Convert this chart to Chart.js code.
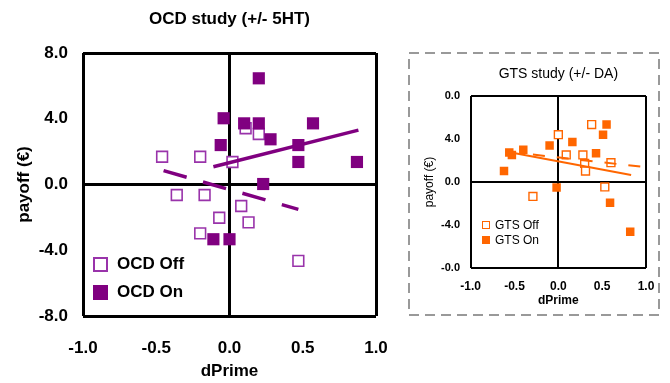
<!DOCTYPE html>
<html>
<head>
<meta charset="utf-8">
<script src="https://cdn.jsdelivr.net/npm/chart.js@4/dist/chart.umd.min.js"></script>
<style>
    body { margin: 0; background: #fff; font-family: 'Liberation Sans', Arial, sans-serif; }
    #page { position: relative; width: 670px; height: 383px; overflow: hidden; }
    .box { position: absolute; }
    .leg { position: absolute; display: flex; align-items: center; color: #000; white-space: nowrap; }
    .sq { box-sizing: border-box; display: inline-block; }
</style>
</head>
<body>
<div id="page">
    <div class="box" style="left:0;top:0;width:400px;height:383px"><canvas id="chart-ocd"></canvas></div>
    <div class="box" style="left:405px;top:45px;width:260px;height:280px"><canvas id="chart-gts"></canvas></div>

    <!-- legendes -->
    <div class="leg" style="left:93px;top:254px;height:20px;font:bold 17px 'Liberation Sans',Arial">
        <span class="sq" style="width:15px;height:15px;border:2px solid #9933aa;background:#fff;margin-right:9px"></span>OCD Off</div>
    <div class="leg" style="left:93px;top:282px;height:20px;font:bold 17px 'Liberation Sans',Arial">
        <span class="sq" style="width:15px;height:15px;background:#800080;margin-right:9px"></span>OCD On</div>
    <div class="leg" style="left:482px;top:218px;height:14px;font:12px 'Liberation Sans',Arial">
        <span class="sq" style="width:8px;height:8px;border:1.5px solid #ff6600;background:#fff;margin-right:5px"></span>GTS Off</div>
    <div class="leg" style="left:482px;top:233px;height:14px;font:12px 'Liberation Sans',Arial">
        <span class="sq" style="width:8px;height:8px;background:#ff6600;margin-right:5px"></span>GTS On</div>
</div>

<script>
// ── Données OCD (+/- 5HT) ─────────────────────────────────────────────
const ocdOffX = [-0.46, -0.20, 0.02, 0.11, 0.20, -0.36, -0.17, 0.08, -0.07, 0.13, -0.20, 0.47]
const ocdOffY = [1.69, 1.69, 1.37, 3.42, 3.07, -0.64, -0.64, -1.31, -2.02, -2.30, -2.97, -4.65]
const ocdOnX  = [0.20, -0.04, 0.10, 0.20, 0.57, 0.28, -0.06, 0.47, 0.47, 0.87, 0.23, -0.11, 0.00]
const ocdOnY  = [6.46, 4.03, 3.72, 3.72, 3.72, 2.75, 2.40, 2.40, 1.37, 1.37, 0.03, -3.33, -3.33]
const ocdOffFitX = [-0.45, 0.47]
const ocdOffFitY = [0.84, -1.51]
const ocdOnFitX  = [-0.11, 0.88]
const ocdOnFitY  = [1.08, 3.31]

// ── Données GTS (+/- DA) ──────────────────────────────────────────────
const gtsOffX = [0.38, 0.00, 0.09, 0.28, 0.30, 0.31, 0.60, 0.53, -0.29]
const gtsOffY = [5.34, 4.40, 2.52, 2.52, 1.74, 1.02, 1.80, -0.46, -1.34]
const gtsOnX  = [0.55, 0.51, 0.16, -0.10, 0.43, -0.40, -0.53, -0.56, -0.62, -0.02, 0.59, 0.82]
const gtsOnY  = [5.34, 4.40, 3.71, 3.40, 2.68, 2.99, 2.52, 2.75, 1.02, -0.52, -1.93, -4.63]
const gtsOffFitX = [-0.29, 1.00]
const gtsOffFitY = [2.55, 1.38]
const gtsOnFitX  = [-0.60, 0.83]
const gtsOnFitY  = [2.84, 0.66]

// ── Graduations ───────────────────────────────────────────────────────
const xTicks    = ['-1.0', '-0.5', '0.0', '0.5', '1.0']
const yTicks    = ['-8.0', '-4.0', '0.0', '4.0', '8.0']
const xTicksGts = ['-1.0', '-0.5', '0.0', '0.5', '1.0']
const yTicksGts = ['-0.0', '-4.0', '0.0', '4.0', '0.0']

const pts  = (xs, ys) => xs.map((x, i) => ({ x, y: ys[i] }))
const fam  = "'Liberation Sans', Arial, sans-serif"
const narrow = "'Liberation Sans Narrow', 'Liberation Sans', Arial, sans-serif"

// lignes noires : cadre + axes à zéro
const frame = (lo, hi, w) => ({
    drawTicks: false,
    lineWidth: w,
    color: c => [lo, 0, hi].includes(c.tick.value) ? '#000' : 'rgba(0,0,0,0)',
})

// taille d'axe fixe, sans débordement des étiquettes
const fixX = h => s => { s.height = h; s.paddingLeft = 0; s.paddingRight = 0 }
const fixY = w => s => { s.width = w; s.paddingTop = 0; s.paddingBottom = 0 }

// ── Graphique OCD ─────────────────────────────────────────────────────
new Chart(document.getElementById('chart-ocd'), {
    type: 'scatter',
    data: {
        datasets: [
            { type: 'line', data: pts(ocdOffFitX, ocdOffFitY), borderColor: '#800080', borderWidth: 3.5, borderDash: [24, 17], pointRadius: 0, order: 0 },
            { type: 'line', data: pts(ocdOnFitX, ocdOnFitY), borderColor: '#800080', borderWidth: 3.5, pointRadius: 0, order: 0 },
            { label: 'OCD Off', data: pts(ocdOffX, ocdOffY), pointStyle: 'rect', pointRadius: 7.6, borderWidth: 1.6, borderColor: '#9933aa', backgroundColor: '#fff', order: 2 },
            { label: 'OCD On', data: pts(ocdOnX, ocdOnY), pointStyle: 'rect', pointRadius: 8.6, borderWidth: 0, backgroundColor: '#800080', order: 1 },
        ]
    },
    options: {
        responsive: true,
        maintainAspectRatio: false,
        animation: false,
        layout: { padding: { top: 0, left: 0, right: 24, bottom: 0 } },
        plugins: {
            legend: { display: false },
            tooltip: { enabled: false },
            title: {
                display: true, text: 'OCD study (+/- 5HT)', fullSize: false, color: '#000',
                font: { family: fam, size: 17, weight: 'bold' },
                padding: { top: 9, bottom: 23.6 }
            }
        },
        scales: {
            x: {
                min: -1, max: 1,
                border: { display: false },
                grid: frame(-1, 1, 3),
                ticks: { stepSize: 0.5, padding: 22, color: '#000', font: { family: fam, size: 17, weight: 'bold' }, callback: (v, i) => xTicks[i] },
                title: { display: true, text: 'dPrime', color: '#000', font: { family: fam, size: 17, weight: 'bold' }, padding: { top: 0, bottom: 1 } },
                afterFit: fixX(67)
            },
            y: {
                min: -8, max: 8,
                border: { display: false },
                grid: frame(-8, 8, 3),
                ticks: { stepSize: 4, padding: 15, color: '#000', font: { family: fam, size: 17, weight: 'bold' }, callback: (v, i) => yTicks[i] },
                title: { display: true, text: 'payoff (€)', color: '#000', font: { family: fam, size: 17, weight: 'bold' }, padding: { top: 14, bottom: 0 } },
                afterFit: fixY(83)
            }
        }
    }
})

// ── Cadre pointillé autour du graphique GTS ───────────────────────────
const dashedBox = {
    id: 'dashedBox',
    beforeDraw(chart) {
        const c = chart.ctx
        c.save()
        c.setLineDash([10, 6])
        c.strokeStyle = '#999'
        c.lineWidth = 2
        c.strokeRect(4, 8, 250, 262)
        c.restore()
    }
}

// ── Graphique GTS ─────────────────────────────────────────────────────
new Chart(document.getElementById('chart-gts'), {
    type: 'scatter',
    plugins: [dashedBox],
    data: {
        datasets: [
            { type: 'line', data: pts(gtsOffFitX, gtsOffFitY), borderColor: '#ff6600', borderWidth: 2, borderDash: [12, 12], pointRadius: 0, order: 0 },
            { type: 'line', data: pts(gtsOnFitX, gtsOnFitY), borderColor: '#ff6600', borderWidth: 2, pointRadius: 0, order: 0 },
            { label: 'GTS Off', data: pts(gtsOffX, gtsOffY), pointStyle: 'rect', pointRadius: 5.6, borderWidth: 1.4, borderColor: '#ff6600', backgroundColor: '#fff', order: 2 },
            { label: 'GTS On', data: pts(gtsOnX, gtsOnY), pointStyle: 'rect', pointRadius: 6, borderWidth: 0, backgroundColor: '#ff6600', order: 1 },
        ]
    },
    options: {
        responsive: true,
        maintainAspectRatio: false,
        animation: false,
        layout: { padding: { top: 0, left: 0, right: 19, bottom: 10 } },
        plugins: {
            legend: { display: false },
            tooltip: { enabled: false },
            title: {
                display: true, text: 'GTS study (+/- DA)', fullSize: false, color: '#000',
                font: { family: fam, size: 14, weight: 'normal' },
                padding: { top: 20.6, bottom: 13.6 }
            }
        },
        scales: {
            x: {
                min: -1, max: 1,
                border: { display: false },
                grid: frame(-1, 1, 2),
                ticks: { stepSize: 0.5, padding: 11.8, color: '#000', font: { family: narrow, size: 12, weight: 'bold' }, callback: (v, i) => xTicksGts[i] },
                title: { display: true, text: 'dPrime', color: '#000', font: { family: fam, size: 12, weight: 'bold' }, padding: { top: 0, bottom: 6.8 } },
                afterFit: fixX(47)
            },
            y: {
                min: -8, max: 8,
                border: { display: false },
                grid: frame(-8, 8, 2),
                ticks: { stepSize: 4, padding: 10.7, color: '#000', font: { family: narrow, size: 11, weight: 'bold' }, callback: (v, i) => yTicksGts[i] },
                title: { display: true, text: 'payoff (€)', color: '#000', font: { family: fam, size: 12 }, padding: { top: 17.8, bottom: 0 } },
                afterFit: fixY(65.7)
            }
        }
    }
})
</script>
</body>
</html>
